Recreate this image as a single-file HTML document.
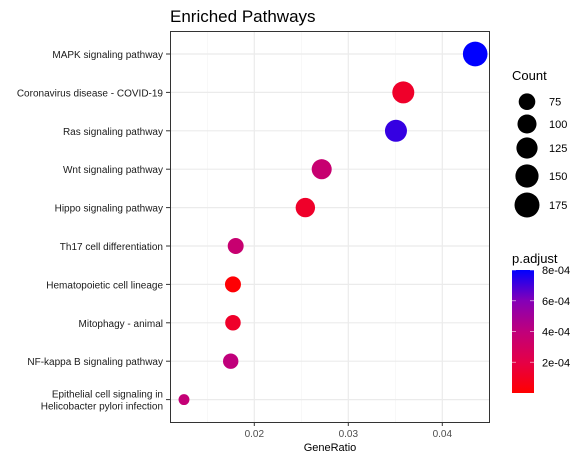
<!DOCTYPE html>
<html><head><meta charset="utf-8"><style>
body{margin:0;background:#fff;}
svg{display:block;font-family:"Liberation Sans",Arial,sans-serif;}
</style></head><body>
<svg id="chart" width="587" height="460" viewBox="0 0 587 460" xmlns="http://www.w3.org/2000/svg">
<defs><linearGradient id="pgrad" x1="0" y1="1" x2="0" y2="0">
<stop offset="0" stop-color="rgb(255,0,0)"/><stop offset="0.25" stop-color="rgb(229,0,70)"/><stop offset="0.5" stop-color="rgb(192,0,123)"/><stop offset="0.75" stop-color="rgb(133,0,183)"/><stop offset="1" stop-color="rgb(0,0,255)"/></linearGradient></defs>
<text x="170" y="22" font-size="17" fill="#000">Enriched Pathways</text>
<rect x="170.5" y="31.5" width="319" height="391" fill="#fff" stroke="none"/>
<g id="grid"></g><g id="yaxis"></g><g id="xaxis"></g><g id="points"></g>
<rect x="170.5" y="31.5" width="319" height="391" fill="none" stroke="#333" stroke-width="1"/>
<text x="330" y="451" font-size="11" text-anchor="middle">GeneRatio</text>
<text x="512" y="80" font-size="13">Count</text>
<g id="sizeLegend"></g>
<text x="512" y="263" font-size="13">p.adjust</text>
<rect x="512" y="270" width="22" height="123" fill="url(#pgrad)"/>
<g id="colorLegend"></g>
</svg>
<script>
const categories=["MAPK signaling pathway","Coronavirus disease - COVID-19","Ras signaling pathway","Wnt signaling pathway","Hippo signaling pathway","Th17 cell differentiation","Hematopoietic cell lineage","Mitophagy - animal","NF-kappa B signaling pathway","Epithelial cell signaling in|Helicobacter pylori infection"];
const geneRatio=[0.0435,0.03585,0.03507,0.02717,0.02543,0.01802,0.01773,0.01773,0.01749,0.01252];
const counts=[170,135,135,111,104,69,69,65,64,30];
const padjust=[0.0008,0.00012,0.00072,0.00036,0.00012,0.00036,0.00001,0.00012,0.00040,0.00038];
const xTicks=[0.02,0.03,0.04];
const xMinor=[0.015,0.025,0.035,0.045];
const sizeBreaks=[75,100,125,150,175];
const colorBreaks=[0.0002,0.0004,0.0006,0.0008];
const colorLabels=["2e-04","4e-04","6e-04","8e-04"];

const NS="http://www.w3.org/2000/svg";
const X=v=>254.3+(v-0.02)*9400;
const Y=i=>54+i*38.4;
const R=c=>Math.sqrt(3.7+0.87*c);
const pmin=0,pmax=0.0008;
const stops=[[255,0,0],[229,0,70],[192,0,123],[133,0,183],[0,0,255]];
const C=p=>{let t=Math.max(0,Math.min(1,(p-pmin)/(pmax-pmin)))*4;let i=Math.min(3,Math.floor(t));let f=t-i;const a=stops[i],b=stops[i+1];
return `rgb(${Math.round(a[0]+(b[0]-a[0])*f)},0,${Math.round(a[2]+(b[2]-a[2])*f)})`;};
const CY=p=>393-(p/0.0008)*123;
function mk(tag,attrs,parent){const e=document.createElementNS(NS,tag);for(const k in attrs)e.setAttribute(k,attrs[k]);document.getElementById(parent).appendChild(e);return e;}

xMinor.forEach(v=>{if(X(v)<489){const l=mk('line',{x1:X(v),x2:X(v),y1:32,y2:422,stroke:'#f2f2f2','stroke-width':0.6},'grid');

}});
xTicks.forEach(v=>{const l=mk('line',{x1:X(v),x2:X(v),y1:32,y2:422,stroke:'#ebebeb','stroke-width':1.2},'grid');


const t=mk('line',{x1:X(v),x2:X(v),y1:422,y2:426,stroke:'#333'},'xaxis');


const tx=mk('text',{x:X(v),y:437,'font-size':10,'text-anchor':'middle',fill:'#4d4d4d'},'xaxis');
tx.textContent=v.toFixed(2);

});
categories.forEach((c,i)=>{const y=Y(i);
const g=mk('line',{x1:171,x2:489,y1:y,y2:y,stroke:'#ebebeb','stroke-width':1.2},'grid');


const t=mk('line',{x1:166,x2:170,y1:y,y2:y,stroke:'#333'},'yaxis');


const parts=c.split('|');
const tx=mk('text',{x:163,y:y+4-(parts.length-1)*6,'font-size':10,'text-anchor':'end',fill:'#1a1a1a'},'yaxis');
parts.forEach((p,j)=>{const s=document.createElementNS(NS,'tspan');s.setAttribute('x',163);if(j>0)s.setAttribute('dy',12);s.textContent=p;tx.appendChild(s);});


const d=mk('circle',{cx:X(geneRatio[i]),cy:y,r:R(counts[i]),fill:C(padjust[i])},'points');

});
const sy=[101.7,124,148,176,205];
sizeBreaks.forEach((b,i)=>{const c=mk('circle',{cx:527,cy:sy[i],r:R(b),fill:'#000'},'sizeLegend');


const t=mk('text',{x:549,y:sy[i]+4,'font-size':11},'sizeLegend');t.textContent=b;

});
colorBreaks.forEach((b,i)=>{const y=CY(b);
const l1=mk('line',{x1:512,x2:516,y1:y,y2:y,stroke:'#fff','stroke-width':0.8,opacity:0.7},'colorLegend');


const l2=mk('line',{x1:530,x2:534,y1:y,y2:y,stroke:'#fff','stroke-width':0.8,opacity:0.7},'colorLegend');


const t=mk('text',{x:542,y:y+4,'font-size':11},'colorLegend');t.textContent=colorLabels[i];

});
</script>
</body></html>
